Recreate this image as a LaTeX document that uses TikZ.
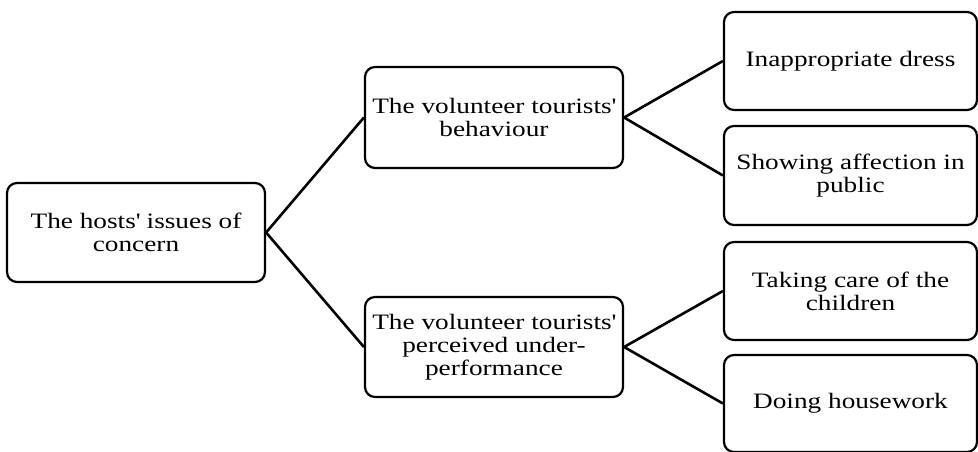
\documentclass[tikz,border=0pt]{standalone}
\usepackage{fontspec}
\setmainfont{Liberation Serif}[FakeStretch=1.24]
\begin{document}
\begin{tikzpicture}[x=1pt,y=-1pt,
  box/.style={draw, line width=2.2pt, rounded corners=10pt, align=center, inner sep=0pt,
    font=\fontsize{22}{23}\selectfont},
  link/.style={line width=2.6pt}]
\useasboundingbox (0,0) rectangle (978,451);
\clip (0,0) rectangle (978,451);
\node[box, minimum width=258pt, minimum height=99pt] (root) at (136,232.5) {The hosts\textquotesingle{} issues of\\concern};
\node[box, minimum width=258pt, minimum height=101pt] (mt) at (494,117.5) {The volunteer tourists\textquotesingle\\behaviour};
\node[box, minimum width=258pt, minimum height=100pt] (mb) at (494,347) {The volunteer tourists\textquotesingle\\perceived under-\\performance};
\node[box, minimum width=253pt, minimum height=98pt] (r1) at (850.5,61) {Inappropriate dress};
\node[box, minimum width=253pt, minimum height=99pt] (r2) at (850.5,175.5) {Showing affection in\\public};
\node[box, minimum width=253pt, minimum height=98pt] (r3) at (850.5,291) {Taking care of the\\children};
\node[box, minimum width=253pt, minimum height=97pt] (r4) at (850.5,403.5) {Doing housework};
\draw[link] (root.east) -- (mt.west);
\draw[link] (root.east) -- (mb.west);
\draw[link] (mt.east) -- (r1.west);
\draw[link] (mt.east) -- (r2.west);
\draw[link] (mb.east) -- (r3.west);
\draw[link] (mb.east) -- (r4.west);
\end{tikzpicture}
\end{document}
